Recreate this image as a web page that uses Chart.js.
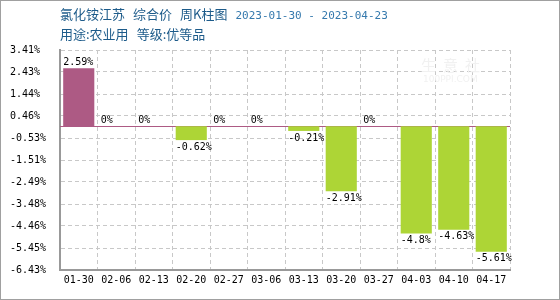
<!DOCTYPE html>
<html><head><meta charset="utf-8">
<script src="https://cdn.jsdelivr.net/npm/chart.js@4"></script>
<style>
html,body{margin:0;padding:0;background:#fff;}
#wrap{position:relative;width:560px;height:300px;overflow:hidden;background:#fff;}
#frame{position:absolute;left:0;top:0;width:560px;height:300px;box-sizing:border-box;border:1px solid #a0a0a0;pointer-events:none;}
.t{position:absolute;white-space:nowrap;font-family:"Noto Sans CJK SC";font-size:13px;line-height:16px;color:#1d5b8a;}
.t span{margin-right:8px;}
.d{font-family:"DejaVu Sans Mono";font-size:11px;color:#3579ad;}
.wm{position:absolute;white-space:nowrap;color:#f1f1f1;pointer-events:none;}
</style></head>
<body>
<div id="wrap">
  <div class="wm" style="left:421px;top:54px;font-family:'Noto Sans CJK SC';font-size:15px;letter-spacing:7px;">生意社</div>
  <div class="wm" style="left:423px;top:74px;font-family:'DejaVu Sans';font-size:9px;">100PPI.COM</div>
  <canvas id="c" width="560" height="300"></canvas>
  <div class="t" style="left:60px;top:6px;"><span>氯化铵江苏</span><span>综合价</span><span>周K柱图</span><span class="d">2023-01-30 - 2023-04-23</span></div>
  <div class="t" style="left:60px;top:26px;"><span>用途:农业用</span><span>等级:优等品</span></div>
  <div id="frame"></div>
</div>
<script>
const categories = ['01-30','02-06','02-13','02-20','02-27','03-06','03-13','03-20','03-27','04-03','04-10','04-17'];
const values = [2.59, 0, 0, -0.62, 0, 0, -0.21, -2.91, 0, -4.8, -4.63, -5.61];
const yTicks = [3.41, 2.43, 1.44, 0.46, -0.53, -1.51, -2.49, -3.48, -4.46, -5.45, -6.43];

const POS = '#ad5a84', NEG = '#add536';
const monoFont = {family: 'DejaVu Sans Mono', size: 10};

const zeroLine = {
  id: 'zeroLine',
  beforeDatasetsDraw(chart) {
    const {ctx, chartArea, scales: {y}} = chart;
    const py = Math.round(y.getPixelForValue(0)) + 0.5;
    ctx.save();
    ctx.strokeStyle = POS;
    ctx.lineWidth = 1;
    ctx.beginPath();
    ctx.moveTo(chartArea.left, py);
    ctx.lineTo(chartArea.right, py);
    ctx.stroke();
    ctx.restore();
  }
};

const barLabels = {
  id: 'barLabels',
  afterDatasetsDraw(chart) {
    const {ctx} = chart;
    const meta = chart.getDatasetMeta(0);
    ctx.save();
    ctx.font = '10px "DejaVu Sans Mono"';
    ctx.fillStyle = '#000';
    ctx.textAlign = 'left';
    meta.data.forEach((el, i) => {
      const v = values[i];
      const x = el.x - el.width / 2;
      const txt = String(v) + '%';
      if (v >= 0) {
        ctx.textBaseline = 'bottom';
        ctx.fillText(txt, x, Math.min(el.y, el.base) - 1);
      } else {
        ctx.textBaseline = 'top';
        ctx.fillText(txt, x, Math.max(el.y, el.base) + 2);
      }
    });
    ctx.restore();
  }
};

new Chart(document.getElementById('c'), {
  type: 'bar',
  data: {
    labels: categories,
    datasets: [{
      data: values,
      backgroundColor: ctx => (values[ctx.dataIndex] >= 0 ? POS : NEG),
      borderWidth: 0,
      barPercentage: 0.83,
      categoryPercentage: 1.0
    }]
  },
  options: {
    responsive: false,
    animation: false,
    devicePixelRatio: 1,
    layout: {padding: {left: 10, right: 50, top: 50, bottom: 0}},
    plugins: {legend: {display: false}, tooltip: {enabled: false}, title: {display: false}},
    scales: {
      x: {
        offset: true,
        grid: {offset: true, color: '#c8c8c8', lineWidth: 1, drawTicks: false},
        border: {display: true, color: '#999', width: 2, dash: [4, 3]},
        ticks: {font: monoFont, color: '#000', padding: 4, maxRotation: 0, autoSkip: false},
        afterFit: s => { s.height = 30; }
      },
      y: {
        min: yTicks[yTicks.length - 1],
        max: yTicks[0],
        afterBuildTicks: s => { s.ticks = yTicks.map(v => ({value: v})); },
        grid: {color: '#c8c8c8', lineWidth: 1, drawTicks: false},
        border: {display: true, color: '#999', width: 2, dash: [4, 3]},
        ticks: {font: monoFont, color: '#000', crossAlign: 'far', padding: 4,
                callback: v => Number(v).toFixed(2) + '%'},
        afterFit: s => { s.width = 50; }
      }
    }
  },
  plugins: [zeroLine, barLabels]
});
</script>
</body></html>
